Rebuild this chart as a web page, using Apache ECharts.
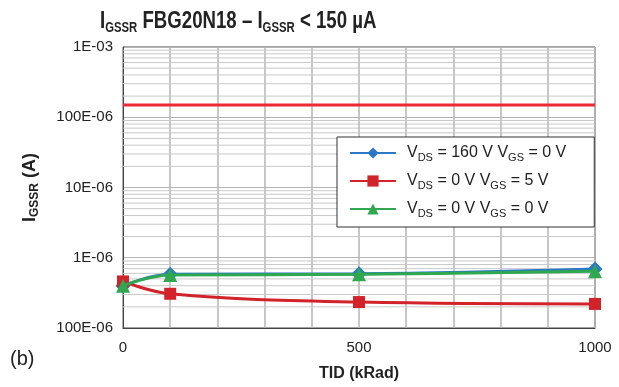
<!DOCTYPE html>
<html>
<head>
<meta charset="utf-8">
<script src="https://cdn.jsdelivr.net/npm/echarts@6/dist/echarts.min.js"></script>
<style>
  html, body { margin: 0; padding: 0; background: #fff; }
  #chart { width: 619px; height: 387px; }
</style>
</head>
<body>
<div id="chart"></div>
<script>
// TID (kRad)
const tid = [0, 100, 500, 1000];
// IGSSR (A)
const vds160vgs0 = [4.0e-7, 5.8e-7, 5.9e-7, 6.9e-7];
const vds0vgs5 = [4.6e-7, 3.07e-7, 2.34e-7, 2.2e-7];
const vds0vgs0 = [4.0e-7, 5.7e-7, 5.8e-7, 6.4e-7];
const limit = 150e-6;
// y tick labels as printed, bottom to top
const yTickLabels = ['100E-06', '1E-06', '10E-06', '100E-06', '1E-03'];
const xTickLabels = ['0', '500', '1000'];
const seriesNames = ['s160', 's05', 's00'];
const legendTexts = {
  s160: '{g|}{n|V}{s|DS}{n| = 160 V V}{s|GS}{n| = 0 V}',
  s05: '{g|}{n|V}{s|DS}{n| = 0 V V}{s|GS}{n| = 5 V}',
  s00: '{g|}{n|V}{s|DS}{n| = 0 V V}{s|GS}{n| = 0 V}'
};
const colors = ['#2a78c6', '#d2232a', '#2fa84f'];

const FONT = 'Liberation Sans, Arial, sans-serif';

// minor log gridlines 2..9 x 10^d
const minorLines = [];
for (let d = -7; d <= -4; d++) {
  for (let k = 2; k <= 9; k++) minorLines.push(k * Math.pow(10, d));
}

const chart = echarts.init(document.getElementById('chart'));

const mkSeries = (name, data, symbol, size, color, z) => ({
  name,
  type: 'line',
  smooth: 0.4,
  data: tid.map((t, i) => [t, data[i]]),
  symbol,
  symbolSize: size,
  lineStyle: { width: 3, color },
  itemStyle: { color },
  z
});

// horizontal full-width lines drawn through the axes
const hLines = (name, values, style, z) => ({
  name,
  type: 'custom',
  silent: true,
  z,
  data: values.map((v) => [0, v]),
  encode: { x: 0, y: 1 },
  renderItem: (params, api) => {
    const v = api.value(1);
    const p1 = api.coord([0, v]);
    const p2 = api.coord([1000, v]);
    return {
      type: 'line',
      shape: { x1: p1[0], y1: p1[1], x2: p2[0], y2: p2[1] },
      style: Object.assign({ fill: null }, style)
    };
  }
});

chart.setOption({
  animation: false,
  textStyle: { fontFamily: FONT },
  graphic: [
    {
      type: 'text',
      x: 100,
      y: 9,
      scaleX: 0.81,
      style: {
        text: '{b|I}{bs|GSSR}{b| FBG20N18 – I}{bs|GSSR}{b| < 150 µA}',
        rich: {
          b: { fontSize: 23, fontWeight: 'bold', fill: '#222', fontFamily: FONT },
          bs: { fontSize: 14, fontWeight: 'bold', fill: '#222', fontFamily: FONT, verticalAlign: 'bottom', padding: [12, 0, 0, 0] }
        }
      }
    },
    {
      type: 'text',
      left: 10,
      top: 349,
      style: { text: '(b)', font: '20px ' + FONT, fill: '#222' }
    }
  ],
  grid: { left: 123, right: 24, top: 47, bottom: 59, show: true, borderColor: '#444', borderWidth: 1 },
  legend: {
    data: seriesNames,
    orient: 'vertical',
    left: 337,
    top: 137,
    width: 258,
    padding: [7, 28, 8, 12],
    itemGap: 9,
    itemWidth: 46,
    itemHeight: 14,
    backgroundColor: '#fff',
    borderColor: '#333',
    borderWidth: 1,
    borderRadius: 0,
    formatter: (name) => legendTexts[name],
    textStyle: {
      rich: {
        g: { width: 6 },
        n: { fontSize: 16, color: '#222', fontFamily: FONT, lineHeight: 20 },
        s: { fontSize: 11, color: '#222', fontFamily: FONT, verticalAlign: 'bottom', padding: [8, 0, 0, 0], lineHeight: 20 }
      }
    }
  },
  xAxis: {
    type: 'value',
    min: 0,
    max: 1000,
    interval: 100,
    name: 'TID (kRad)',
    nameLocation: 'middle',
    nameGap: 38,
    nameTextStyle: { fontSize: 16, fontWeight: 'bold', color: '#222' },
    axisLine: { lineStyle: { color: '#444' } },
    axisTick: { show: false },
    axisLabel: {
      fontSize: 15,
      color: '#222',
      margin: 12,
      formatter: (v) => (v % 500 === 0 ? xTickLabels[v / 500] : '')
    },
    splitLine: { lineStyle: { color: '#b4b4b4', width: 1.5 } }
  },
  yAxis: {
    type: 'log',
    logBase: 10,
    min: 1e-7,
    max: 1e-3,
    name: '{b|I}{bs|GSSR}{b| (A)}',
    nameLocation: 'middle',
    nameRotate: 90,
    nameGap: 82,
    nameTextStyle: {
      rich: {
        b: { fontSize: 18, fontWeight: 'bold', color: '#222', fontFamily: FONT },
        bs: { fontSize: 12, fontWeight: 'bold', color: '#222', fontFamily: FONT, verticalAlign: 'bottom', padding: [9, 0, 0, 0] }
      }
    },
    axisLine: { lineStyle: { color: '#444' } },
    axisTick: { show: false },
    axisLabel: {
      fontSize: 15,
      color: '#222',
      margin: 10,
      formatter: (v) => yTickLabels[Math.round(Math.log10(v)) + 7] || ''
    },
    splitLine: { lineStyle: { color: '#b4b4b4', width: 1 } }
  },
  series: [
    hLines('minor', minorLines, { stroke: '#c8c8c8', lineWidth: 1 }, 1),
    hLines('limit', [limit], { stroke: '#ec2a33', lineWidth: 3 }, 2),
    mkSeries('s160', vds160vgs0, 'diamond', 15, colors[0], 3),
    mkSeries('s05', vds0vgs5, 'rect', 12, colors[1], 4),
    mkSeries('s00', vds0vgs0, 'triangle', 14, colors[2], 5)
  ]
});
</script>
</body>
</html>
